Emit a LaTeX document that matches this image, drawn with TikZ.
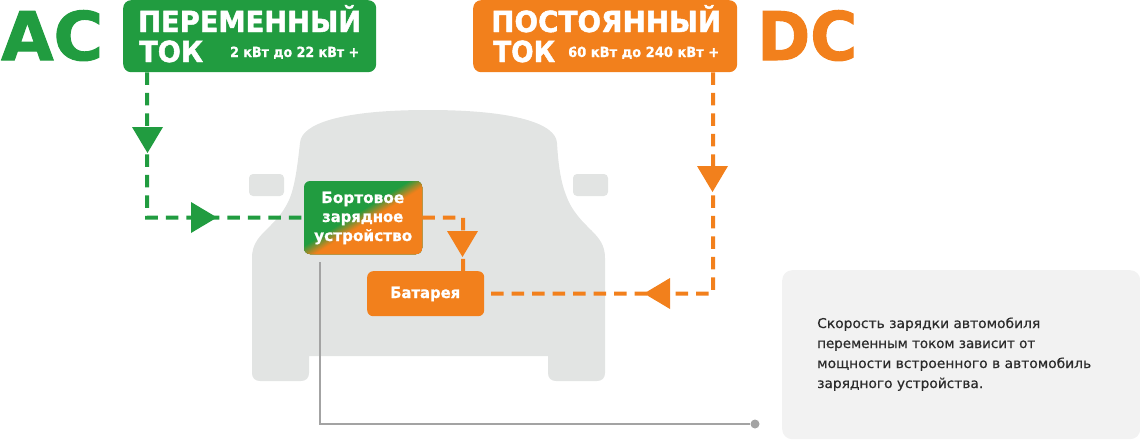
\documentclass[tikz,border=0pt]{standalone}
\usepackage{fontspec}
\usepackage{graphicx}
\setmainfont{DejaVu Sans}
\newfontfamily\heavyfont[FakeBold=1.6]{DejaVu Sans Bold}
\newfontfamily\strongfont[FakeBold=0.8]{DejaVu Sans Bold}
\newfontfamily\mediumfont[FakeBold=0.5]{DejaVu Sans}
\usetikzlibrary{calc}
\definecolor{acgreen}{HTML}{219C40}
\definecolor{dcorange}{HTML}{F2801C}
\definecolor{carbody}{HTML}{E2E4E3}
\definecolor{panel}{HTML}{F2F2F2}
\definecolor{pointer}{HTML}{A3A3A3}
\definecolor{bodytext}{HTML}{2B2B2B}
\newcommand{\fitw}[2]{\resizebox{#1pt}{\height}{#2}}
\newcommand{\pxfont}[1]{\fontsize{#1}{#1}\selectfont}
\tikzset{
  x=1pt,y=-1pt,
  label text/.style={anchor=base west,inner sep=0pt,text=white},
  big letters/.style={anchor=base west,inner sep=0pt,font=\heavyfont\pxfont{67}},
  body line/.style={anchor=base west,inner sep=0pt,text=bodytext,font=\mediumfont\pxfont{13.5}},
  headbox/.style={rounded corners=8pt,minimum width=#1,minimum height=72pt,inner sep=0pt,anchor=north west},
  flow/.style={line width=4pt,dash pattern=on 12.5pt off 8pt},
  unit/.style={rounded corners=6pt,inner sep=0pt,anchor=north west},
  hint/.style={line width=1.7pt,draw=pointer},
}
\begin{document}
\begin{tikzpicture}
\useasboundingbox (0,0) rectangle (1140,439);
% car
\fill[carbody]
  (300,143) .. controls (301,124) and (340,110) .. (428,110)
  .. controls (516,110) and (556,124) .. (557,143)
  .. controls (558,160) and (560,180) .. (566,195)
  .. controls (572,212) and (583,222) .. (592,231)
  .. controls (600,239) and (605,246) .. (605,258)
  -- (605,373) .. controls (605,378) and (602,381) .. (597,381)
  -- (556,381) .. controls (551,381) and (548,378) .. (548,373)
  -- (548,356) -- (309,356) -- (309,373)
  .. controls (309,378) and (306,381) .. (301,381)
  -- (260,381) .. controls (255,381) and (252,378) .. (252,373)
  -- (252,258) .. controls (252,246) and (257,239) .. (265,231)
  .. controls (274,222) and (285,212) .. (291,195)
  .. controls (296,180) and (298,160) .. (300,143) -- cycle;
\fill[carbody,rounded corners=4pt] (249,174) rectangle (284,196);
\fill[carbody,rounded corners=4pt] (573,174) rectangle (608,196);
% info panel
\node[fill=panel,rounded corners=10pt,minimum width=358pt,minimum height=169pt,inner sep=0pt,anchor=north west] (info) at (782,270) {};
\node[body line] (l1) at (817,328) {\fitw{223}{Скорость зарядки автомобиля}};
\node[body line] (l2) at (817,348) {\fitw{218}{переменным током зависит от}};
\node[body line] (l3) at (817,368) {\fitw{274}{мощности встроенного в автомобиль}};
\node[body line] (l4) at (817,388) {\fitw{166}{зарядного устройства.}};
% heading boxes
\node[headbox=253pt,fill=acgreen] (acbox) at (123,0) {};
\node[headbox=264pt,fill=dcorange] (dcbox) at (473,0) {};
\node[big letters,text=acgreen] (ac) at (1,60) {\fitw{102}{AC}};
\node[big letters,text=dcorange] (dc) at (757,60) {\fitw{100}{DC}};
\node[label text,font=\heavyfont\pxfont{29}] (ach) at (138,32) {\fitw{223}{ПЕРЕМЕННЫЙ}};
\node[label text,font=\heavyfont\pxfont{29}] (act) at (139,62) {\fitw{64}{ТОК}};
\node[label text,font=\strongfont\pxfont{14}] (acp) at (230,57) {\fitw{129}{2 кВт до 22 кВт +}};
\node[label text,font=\heavyfont\pxfont{29}] (dch) at (491,32) {\fitw{230}{ПОСТОЯННЫЙ}};
\node[label text,font=\heavyfont\pxfont{29}] (dct) at (493,62) {\fitw{62}{ТОК}};
\node[label text,font=\strongfont\pxfont{14}] (dcp) at (568,57) {\fitw{151}{60 кВт до 240 кВт +}};
% onboard charger
\begin{scope}
  \clip[rounded corners=6pt] (304,181) rectangle (422,254);
  \fill[acgreen] (304,181) rectangle (422,254);
  \foreach \t/\p in {-6/8,-5/16,-4/24,-3/32,-2/40,-1/48,0/56,1/64,2/72,3/80,4/88,5/96,6/100}{
    \fill[dcorange!\p!acgreen] ($(300,256.5)+(.525*\t,.85*\t)$) -- ($(426,178.5)+(.525*\t,.85*\t)$) -- (520,300) -- (300,300) -- cycle;
  }
\end{scope}
\node[minimum width=118pt,minimum height=73pt,inner sep=0pt,anchor=north west] (ocb) at (304,181) {};
\node[label text,font=\strongfont\pxfont{15.5}] (o1) at (321,203) {\fitw{83}{Бортовое}};
\node[label text,font=\strongfont\pxfont{15.5}] (o2) at (322,222) {\fitw{81}{зарядное}};
\node[label text,font=\strongfont\pxfont{15.5}] (o3) at (314,241) {\fitw{98}{устройство}};
% battery
\node[unit,fill=dcorange,minimum width=117pt,minimum height=45pt] (bat) at (367,271) {};
\node[label text,font=\strongfont\pxfont{15.5}] (batl) at (390,298) {\fitw{70}{Батарея}};
% connectors
\coordinate (accorner) at (147,217.5);
\coordinate (dccorner) at (713,293.5);
\coordinate (ocorner) at (463,217.5);
\draw[flow,draw=acgreen] (accorner |- acbox.south) -- (accorner) -- (ocb.west);
\draw[flow,draw=dcorange] (ocb.east) -- (ocorner) -- (ocorner |- bat.north);
\draw[flow,draw=dcorange] (dccorner |- dcbox.south) -- (dccorner) -- ($(bat.east)+(4,0)$);
% arrowheads
\fill[acgreen] (132,127) -- (163,127) -- (147.5,153) -- cycle;
\fill[acgreen] (191,202) -- (217,217.5) -- (191,233) -- cycle;
\fill[dcorange] (697,166) -- (728,166) -- (712.5,192) -- cycle;
\fill[dcorange] (670,278) -- (644,293.5) -- (670,309) -- cycle;
\fill[dcorange] (447,231) -- (478,231) -- (462.5,257) -- cycle;
% pointer
\coordinate (pstart) at (320,262);
\coordinate (pcorner) at (320,424);
\node[circle,fill=pointer,minimum size=9pt,inner sep=0pt] (pdot) at (755,424) {};
\draw[hint] (pstart) -- (pcorner) -- (pdot);
\end{tikzpicture}
\end{document}
